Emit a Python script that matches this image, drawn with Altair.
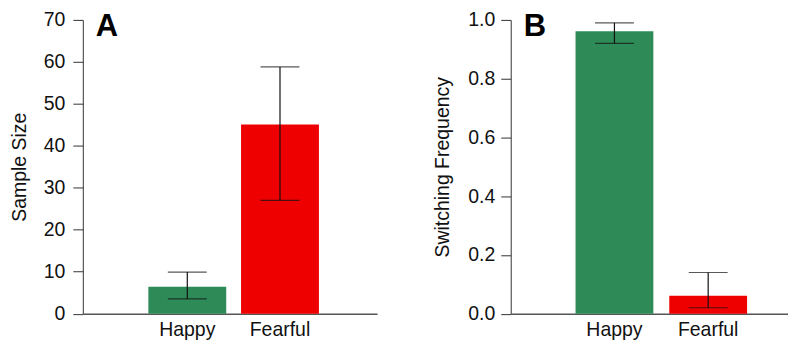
import altair as alt
import pandas as pd

categories = ["Happy", "Fearful"]
colors = ["#2E8B57", "#EE0000"]

sample_size = [6.4, 45.1]
sample_low = [3.5, 27.0]
sample_high = [9.9, 58.8]

switch_freq = [0.961, 0.061]
switch_low = [0.92, 0.02]
switch_high = [0.99, 0.14]

dfA = pd.DataFrame({"cat": categories, "v": sample_size, "lo": sample_low, "hi": sample_high})
dfB = pd.DataFrame({"cat": categories, "v": switch_freq, "lo": switch_low, "hi": switch_high})

FONT = "Liberation Sans"


def panel(df, letter, ytitle, ydomain, ytickvals, fmt, width, pad_outer, align, pad_inner,
          label_pad, title_pad):
    xenc = alt.X("cat:N", sort=categories, title=None,
                 scale=alt.Scale(paddingInner=pad_inner, paddingOuter=pad_outer, align=align),
                 axis=alt.Axis(labelAngle=0, ticks=False, labelFontSize=19.5, labelFont=FONT,
                               labelColor="#111", labelPadding=7, domainColor="#555",
                               domainWidth=1.5))
    yscale = alt.Scale(domain=ydomain, nice=False, zero=True)
    base = alt.Chart(df)
    bars = base.mark_bar().encode(
        x=xenc,
        y=alt.Y("v:Q", scale=yscale, title=ytitle,
                axis=alt.Axis(values=ytickvals, format=fmt, grid=False, tickSize=10,
                              tickColor="#333", domainColor="#333", labelFontSize=19.5,
                              labelFont=FONT, labelColor="#111", labelPadding=label_pad,
                              titleFont=FONT, titleFontSize=19.5, titleFontWeight="normal",
                              titleColor="#111", titlePadding=title_pad)),
        color=alt.Color("cat:N", sort=categories,
                        scale=alt.Scale(domain=categories, range=colors), legend=None),
    )
    rules = base.mark_rule(color="#111", strokeWidth=1.2).encode(
        x=alt.X("cat:N", sort=categories),
        y=alt.Y("lo:Q", scale=yscale),
        y2="hi:Q",
    )
    cap_hi = base.mark_tick(color="#111", size=39, thickness=1.2).encode(
        x=alt.X("cat:N", sort=categories), y=alt.Y("hi:Q", scale=yscale))
    cap_lo = base.mark_tick(color="#111", size=39, thickness=1.2).encode(
        x=alt.X("cat:N", sort=categories), y=alt.Y("lo:Q", scale=yscale))
    label = alt.Chart(pd.DataFrame({"t": [letter]})).mark_text(
        font="Liberation Sans", fontSize=31, fontWeight="bold", align="left",
        baseline="alphabetic", color="black").encode(
        text="t:N", x=alt.value(13), y=alt.value(16))
    return alt.layer(bars, rules, cap_hi, cap_lo, label).properties(width=width, height=294.5)


A = panel(dfA, "A", "Sample Size", [0, 70], [0, 10, 20, 30, 40, 50, 60, 70], "d",
          295, 0.667, 0.53, 0.16, 8, 14)
B = panel(dfB, "B", "Switching Frequency", [0, 1], [0, 0.2, 0.4, 0.6, 0.8, 1.0], ".1f",
          278, 0.564, 0.613, 0.17, 6, 15)

chart = alt.hconcat(A, B, spacing=55).properties(
    padding={"left": 1, "top": 1.5, "right": 0, "bottom": 0}
).configure_view(stroke=None).configure_axis(labelFontWeight="normal")

chart.save("out.html", embed_options={"renderer": "svg", "actions": False})
